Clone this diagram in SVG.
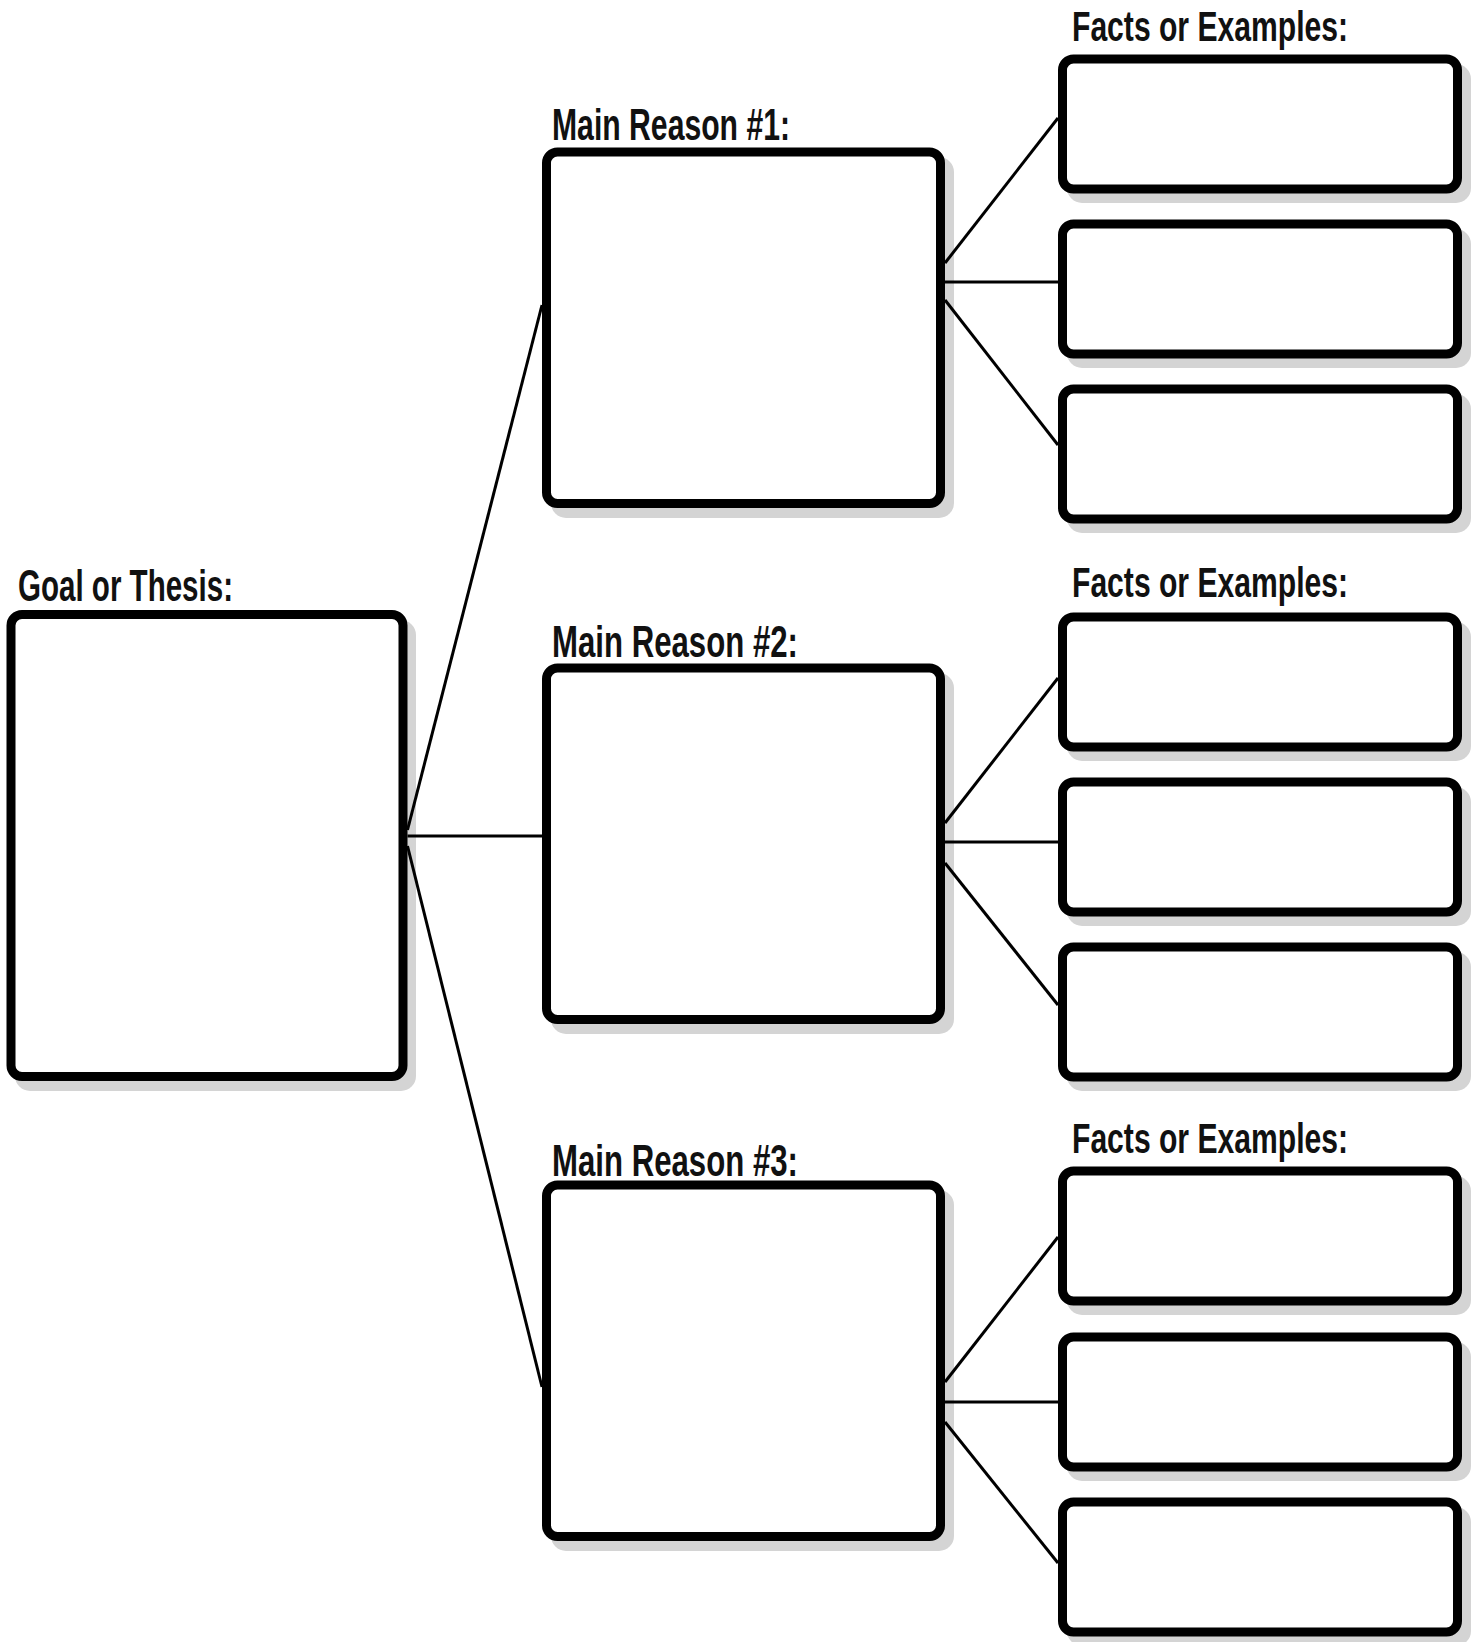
<svg xmlns="http://www.w3.org/2000/svg" width="1473" height="1642" viewBox="0 0 1473 1642">
<style>
.shadow{fill:#d4d4d4;stroke:none}
.box{fill:#ffffff;stroke:#000000;stroke-width:9}
.lbl{font-family:"Liberation Sans",Arial,sans-serif;font-weight:bold;font-size:45px;fill:#111111}
.flbl{font-family:"Liberation Sans",Arial,sans-serif;font-weight:bold;font-size:42px;fill:#111111}
.conn line{stroke:#000000;stroke-width:3;stroke-linecap:butt}
</style>
<rect width="1473" height="1642" fill="#ffffff"/>

<g id="goal">
<rect class="shadow" x="15" y="620" width="401" height="471" rx="15"/>
<rect class="box" x="11" y="614.5" width="392" height="462" rx="11"/>
<text class="lbl" x="18" y="601" textLength="215" lengthAdjust="spacingAndGlyphs">Goal or Thesis:</text>
</g>

<g id="reason1">
<rect class="shadow" x="551" y="157" width="403" height="361" rx="15"/>
<rect class="box" x="546.5" y="152" width="394" height="351.5" rx="11"/>
<text class="lbl" x="552" y="140" textLength="238" lengthAdjust="spacingAndGlyphs">Main Reason #1:</text>
</g>
<g id="reason2">
<rect class="shadow" x="551" y="673" width="403" height="361" rx="15"/>
<rect class="box" x="546.5" y="668" width="394" height="351.5" rx="11"/>
<text class="lbl" x="552" y="657" textLength="246" lengthAdjust="spacingAndGlyphs">Main Reason #2:</text>
</g>
<g id="reason3">
<rect class="shadow" x="551" y="1190" width="403" height="361" rx="15"/>
<rect class="box" x="546.5" y="1185" width="394" height="351.5" rx="11"/>
<text class="lbl" x="552" y="1176" textLength="246" lengthAdjust="spacingAndGlyphs">Main Reason #3:</text>
</g>

<g id="facts1">
<text class="flbl" x="1072" y="41" textLength="276" lengthAdjust="spacingAndGlyphs">Facts or Examples:</text>
<rect class="shadow" x="1067" y="64" width="404" height="139" rx="15"/>
<rect class="box" x="1062.5" y="59" width="395" height="130" rx="11"/>
</g>
<g id="facts1b">
<rect class="shadow" x="1067" y="229" width="404" height="139" rx="15"/>
<rect class="box" x="1062.5" y="224" width="395" height="130" rx="11"/>
</g>
<g id="facts1c">
<rect class="shadow" x="1067" y="394" width="404" height="139" rx="15"/>
<rect class="box" x="1062.5" y="389" width="395" height="130" rx="11"/>
</g>

<g id="facts2">
<text class="flbl" x="1072" y="597" textLength="276" lengthAdjust="spacingAndGlyphs">Facts or Examples:</text>
<rect class="shadow" x="1067" y="622" width="404" height="139" rx="15"/>
<rect class="box" x="1062.5" y="617" width="395" height="130" rx="11"/>
</g>
<g id="facts2b">
<rect class="shadow" x="1067" y="787" width="404" height="139" rx="15"/>
<rect class="box" x="1062.5" y="782" width="395" height="130" rx="11"/>
</g>
<g id="facts2c">
<rect class="shadow" x="1067" y="952" width="404" height="139" rx="15"/>
<rect class="box" x="1062.5" y="947" width="395" height="130" rx="11"/>
</g>

<g id="facts3">
<text class="flbl" x="1072" y="1153" textLength="276" lengthAdjust="spacingAndGlyphs">Facts or Examples:</text>
<rect class="shadow" x="1067" y="1176" width="404" height="139" rx="15"/>
<rect class="box" x="1062.5" y="1171" width="395" height="130" rx="11"/>
</g>
<g id="facts3b">
<rect class="shadow" x="1067" y="1342" width="404" height="139" rx="15"/>
<rect class="box" x="1062.5" y="1337" width="395" height="130" rx="11"/>
</g>
<g id="facts3c">
<rect class="shadow" x="1067" y="1507" width="404" height="139" rx="15"/>
<rect class="box" x="1062.5" y="1502" width="395" height="130" rx="11"/>
</g>

<g id="connectors" class="conn">
<line x1="407.5" y1="830" x2="542" y2="305"/>
<line x1="407.5" y1="836" x2="542" y2="836"/>
<line x1="407.5" y1="846" x2="542" y2="1387"/>

<line x1="945" y1="263" x2="1058" y2="118"/>
<line x1="945" y1="282" x2="1058" y2="282"/>
<line x1="945" y1="300" x2="1058" y2="445"/>

<line x1="945" y1="823" x2="1058" y2="678"/>
<line x1="945" y1="842" x2="1058" y2="842"/>
<line x1="945" y1="863" x2="1058" y2="1005"/>

<line x1="945" y1="1382" x2="1058" y2="1237"/>
<line x1="945" y1="1402" x2="1058" y2="1402"/>
<line x1="945" y1="1422" x2="1058" y2="1563"/>
</g>
</svg>
